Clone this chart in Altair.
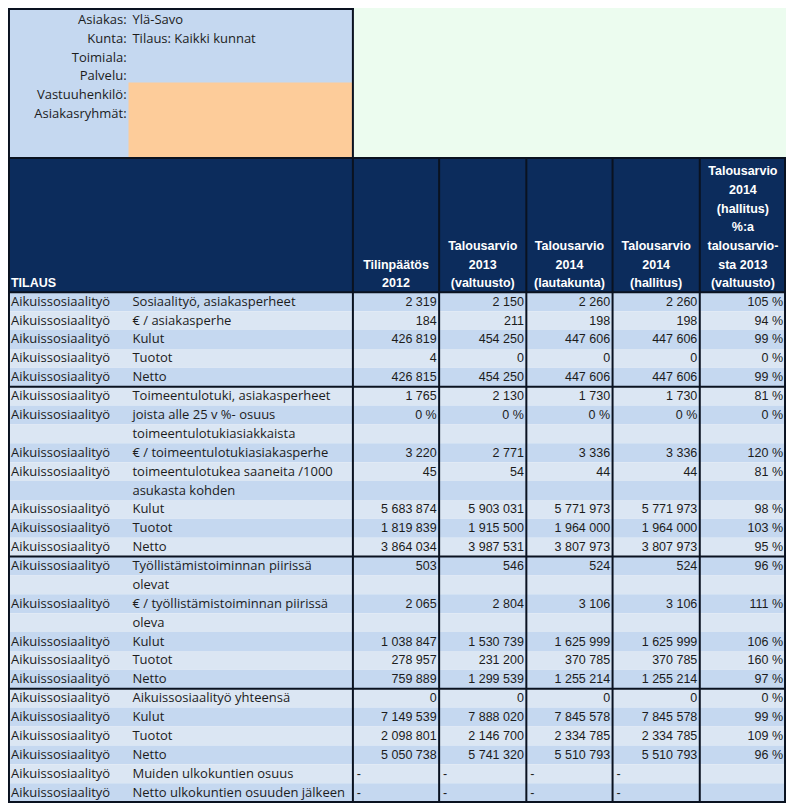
import altair as alt
import pandas as pd

# ---------------- data ----------------
top_labels = ["Asiakas:", "Kunta:", "Toimiala:", "Palvelu:", "Vastuuhenkilö:", "Asiakasryhmät:"]
top_values = ["Ylä-Savo", "Tilaus: Kaikki kunnat", "", "", "", ""]

header_title = "TILAUS"
header_cols = [
    ["Tilinpäätös", "2012"],
    ["Talousarvio", "2013", "(valtuusto)"],
    ["Talousarvio", "2014", "(lautakunta)"],
    ["Talousarvio", "2014", "(hallitus)"],
    ["Talousarvio", "2014", "(hallitus)", "%:a", "talousarvio-", "sta 2013", "(valtuusto)"],
]

group = ["Aikuissosiaalityö"] * 23
items = [
    ["Sosiaalityö, asiakasperheet"],
    ["€ / asiakasperhe"],
    ["Kulut"],
    ["Tuotot"],
    ["Netto"],
    ["Toimeentulotuki, asiakasperheet"],
    ["joista alle 25 v %- osuus", "toimeentulotukiasiakkaista"],
    ["€ / toimeentulotukiasiakasperhe"],
    ["toimeentulotukea saaneita /1000", "asukasta kohden"],
    ["Kulut"],
    ["Tuotot"],
    ["Netto"],
    ["Työllistämistoiminnan piirissä", "olevat"],
    ["€ / työllistämistoiminnan piirissä", "oleva"],
    ["Kulut"],
    ["Tuotot"],
    ["Netto"],
    ["Aikuissosiaalityö yhteensä"],
    ["Kulut"],
    ["Tuotot"],
    ["Netto"],
    ["Muiden ulkokuntien osuus"],
    ["Netto ulkokuntien osuuden jälkeen"],
]
percent_rows = [6]  # row shown as a percentage

tp_2012 = [2319, 184, 426819, 4, 426815, 1765, 0, 3220, 45, 5683874, 1819839, 3864034,
           503, 2065, 1038847, 278957, 759889, 0, 7149539, 2098801, 5050738, None, None]
ta_2013 = [2150, 211, 454250, 0, 454250, 2130, 0, 2771, 54, 5903031, 1915500, 3987531,
           546, 2804, 1530739, 231200, 1299539, 0, 7888020, 2146700, 5741320, None, None]
ta_2014_lk = [2260, 198, 447606, 0, 447606, 1730, 0, 3336, 44, 5771973, 1964000, 3807973,
              524, 3106, 1625999, 370785, 1255214, 0, 7845578, 2334785, 5510793, None, None]
ta_2014_h = [2260, 198, 447606, 0, 447606, 1730, 0, 3336, 44, 5771973, 1964000, 3807973,
             524, 3106, 1625999, 370785, 1255214, 0, 7845578, 2334785, 5510793, None, None]
pct_2014_2013 = [105, 94, 99, 0, 99, 81, 0, 120, 81, 98, 103, 95,
                 96, 111, 106, 160, 97, 0, 99, 109, 96, None, None]

value_cols = [tp_2012, ta_2013, ta_2014_lk, ta_2014_h]

# ---------------- layout (reference pixel grid) ----------------
REF_W, REF_H = 794, 811
PLOT_W, PLOT_H = 778, 795
col_edges = [352, 440, 529, 617, 706, 794]
colB_x = 127
box_bottom = 153
head_bottom = 290
data_bottom = 810
row_units = [len(it) for it in items]
U = (data_bottom - head_bottom) / sum(row_units)
row_top = []
acc = 0
for n in row_units:
    row_top.append(head_bottom + acc * U)
    acc += n
group_breaks = [5, 12, 17]

NAVY = "#0c2c5c"
DARK = "#0a1220"
BLUE1 = "#c5d8f0"
BLUE2 = "#dbe6f3"
ORANGE = "#fdcc9a"
MINT = "#ecfcef"
TXT = "#1c1c1c"

xs = alt.Scale(domain=[0, REF_W], range=[0, PLOT_W], nice=False, zero=False)
ys = alt.Scale(domain=[0, REF_H], range=[0, PLOT_H], nice=False, zero=False)


def fmt(v, pct=False):
    s = f"{v:,}".replace(",", "\u00a0")
    return s + "\u00a0%" if pct else s


# ---------------- rectangles ----------------
rects = [
    dict(x=0, x2=352, y=0, y2=box_bottom, c=BLUE1),
    dict(x=123, x2=352, y=76, y2=box_bottom, c=ORANGE),
    dict(x=352, x2=794, y=0, y2=box_bottom, c=MINT),
    dict(x=0, x2=794, y=box_bottom, y2=head_bottom, c=NAVY),
]
for k in range(sum(row_units)):
    rects.append(dict(x=0, x2=794, y=head_bottom + k * U, y2=head_bottom + (k + 1) * U,
                      c=BLUE1 if k % 2 == 0 else BLUE2))
rect_df = pd.DataFrame(rects)
rect_layer = alt.Chart(rect_df).mark_rect(strokeWidth=0).encode(
    x=alt.X("x:Q", scale=xs, axis=None), x2="x2:Q",
    y=alt.Y("y:Q", scale=ys, axis=None), y2="y2:Q",
    color=alt.Color("c:N", scale=None),
)

# ---------------- lines ----------------
lines = [
    dict(x=0, x2=353, y=1, y2=1),
    dict(x=1, x2=1, y=0, y2=data_bottom),
    dict(x=352, x2=352, y=0, y2=data_bottom),
    dict(x=0, x2=794, y=box_bottom, y2=box_bottom),
    dict(x=0, x2=794, y=head_bottom, y2=head_bottom),
    dict(x=0, x2=794, y=data_bottom, y2=data_bottom),
    dict(x=793, x2=793, y=box_bottom, y2=data_bottom),
]
for e in col_edges[1:-1]:
    lines.append(dict(x=e, x2=e, y=box_bottom, y2=data_bottom))
for g in group_breaks:
    lines.append(dict(x=0, x2=794, y=row_top[g], y2=row_top[g]))
line_df = pd.DataFrame(lines)
line_layer = alt.Chart(line_df).mark_rule(strokeWidth=2, color=DARK).encode(
    x=alt.X("x:Q", scale=xs, axis=None), x2="x2:Q",
    y=alt.Y("y:Q", scale=ys, axis=None), y2="y2:Q",
)

# ---------------- texts ----------------
LABEL_FONT = "Open Sans"
NUM_FONT = "Liberation Sans, sans-serif"


def text_layer(df, align, font, size, color, weight="normal"):
    return alt.Chart(df).mark_text(align=align, baseline="middle", font=font,
                                   fontSize=size, fontWeight=weight, color=color).encode(
        x=alt.X("x:Q", scale=xs, axis=None),
        y=alt.Y("y:Q", scale=ys, axis=None),
        text="t:N",
    )


# top box
tl = pd.DataFrame([dict(x=121, y=12.5 + i * 19.1, t=s) for i, s in enumerate(top_labels)])
tv = pd.DataFrame([dict(x=colB_x, y=12.5 + i * 19.1, t=s) for i, s in enumerate(top_values) if s])

# header
hd = []
for ci, lns in enumerate(header_cols):
    cx = (col_edges[ci] + col_edges[ci + 1]) / 2
    n = len(lns)
    for j, s in enumerate(lns):
        hd.append(dict(x=cx, y=281 - (n - 1 - j) * 19.1, t=s))
hd_df = pd.DataFrame(hd)
ht_df = pd.DataFrame([dict(x=3, y=281, t=header_title)])

# data labels
la, lb = [], []
for i in range(len(items)):
    la.append(dict(x=3, y=row_top[i] + U / 2, t=group[i]))
    for j, s in enumerate(items[i]):
        lb.append(dict(x=colB_x, y=row_top[i] + U * (j + 0.5), t=s))
la_df = pd.DataFrame(la)
lb_df = pd.DataFrame(lb)

# numbers
nums, dashes = [], []
for ci, vals in enumerate(value_cols):
    for i, v in enumerate(vals):
        yc = row_top[i] + U / 2
        if v is None:
            dashes.append(dict(x=col_edges[ci] + 4, y=yc, t="-"))
        else:
            nums.append(dict(x=col_edges[ci + 1] - 2.5, y=yc, t=fmt(v, i in percent_rows)))
for i, v in enumerate(pct_2014_2013):
    if v is not None:
        nums.append(dict(x=791, y=row_top[i] + U / 2, t=fmt(v, True)))
num_df = pd.DataFrame(nums)
dash_df = pd.DataFrame(dashes)

layers = [
    rect_layer,
    line_layer,
    text_layer(tl, "right", LABEL_FONT, 13, TXT),
    text_layer(tv, "left", LABEL_FONT, 13, TXT),
    text_layer(hd_df, "center", NUM_FONT, 12.5, "white", "bold"),
    text_layer(ht_df, "left", NUM_FONT, 12.5, "white", "bold"),
    text_layer(la_df, "left", LABEL_FONT, 13, TXT),
    text_layer(lb_df, "left", LABEL_FONT, 13, TXT),
    text_layer(num_df, "right", NUM_FONT, 12.5, TXT),
    text_layer(dash_df, "left", NUM_FONT, 12.5, TXT),
]

chart = alt.layer(*layers).properties(
    width=PLOT_W, height=PLOT_H, padding=0, autosize="none", background="white"
).configure_view(stroke=None)

chart.save("out.html", embed_options={"renderer": "svg", "actions": False})
